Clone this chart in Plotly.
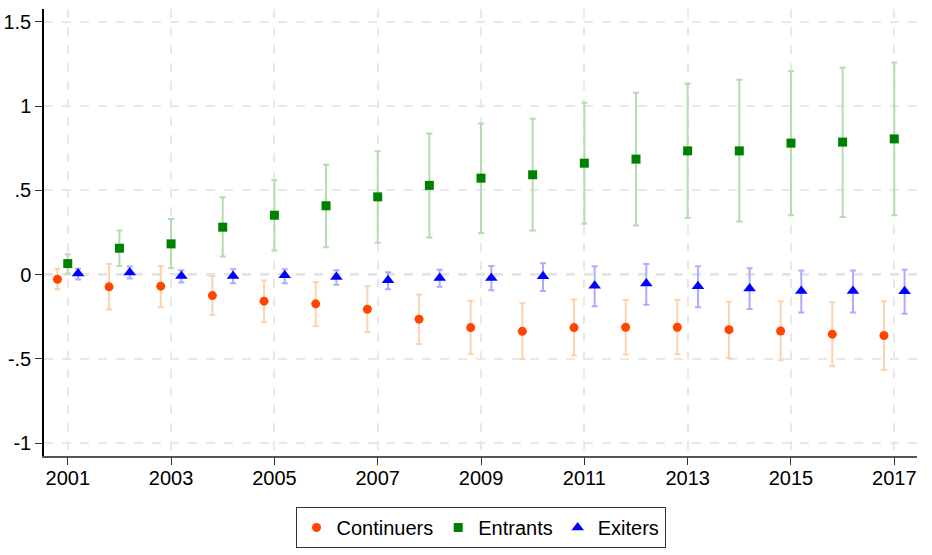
import plotly.graph_objects as go

years = list(range(2001, 2018))

cont = [-0.027, -0.072, -0.068, -0.124, -0.157, -0.173, -0.205, -0.264, -0.314, -0.336,
        -0.314, -0.312, -0.312, -0.326, -0.334, -0.353, -0.361]
cont_hi = [0.035, 0.064, 0.052, -0.009, -0.035, -0.043, -0.068, -0.118, -0.155, -0.169,
           -0.147, -0.150, -0.150, -0.161, -0.157, -0.163, -0.157]
cont_lo = [-0.086, -0.207, -0.193, -0.239, -0.280, -0.306, -0.340, -0.411, -0.470, -0.500,
           -0.480, -0.474, -0.472, -0.494, -0.508, -0.543, -0.565]

entr = [0.066, 0.157, 0.183, 0.282, 0.353, 0.409, 0.462, 0.530, 0.573, 0.593,
        0.662, 0.686, 0.735, 0.735, 0.781, 0.787, 0.806]
entr_hi = [0.122, 0.262, 0.330, 0.460, 0.561, 0.652, 0.733, 0.838, 0.898, 0.925,
           1.020, 1.080, 1.133, 1.157, 1.208, 1.228, 1.260]
entr_lo = [0.007, 0.052, 0.040, 0.108, 0.144, 0.163, 0.189, 0.221, 0.246, 0.262,
           0.302, 0.292, 0.336, 0.316, 0.353, 0.343, 0.353]

exit_ = [0.007, 0.013, -0.007, -0.007, -0.003, -0.013, -0.033, -0.019, -0.019, -0.009,
         -0.066, -0.052, -0.068, -0.082, -0.096, -0.096, -0.098]
exit_hi = [0.035, 0.049, 0.027, 0.033, 0.033, 0.027, 0.015, 0.029, 0.052, 0.068,
           0.050, 0.064, 0.050, 0.039, 0.025, 0.025, 0.029]
exit_lo = [-0.028, -0.023, -0.046, -0.050, -0.050, -0.060, -0.086, -0.072, -0.092, -0.096,
           -0.187, -0.179, -0.193, -0.203, -0.225, -0.225, -0.231]

x_ticks = list(range(2001, 2018, 2))
y_tickvals = [-1, -0.5, 0, 0.5, 1, 1.5]
y_ticktext = ["-1", "-.5", "0", ".5", "1", "1.5"]

offset = 0.2

def series(name, vals, hi, lo, dx, color, ecolor, symbol, size):
    return go.Scatter(
        x=[y + dx for y in years], y=vals, mode="markers", name=name,
        marker=dict(symbol=symbol, size=size, color=color, line=dict(width=0)),
        error_y=dict(type="data", symmetric=False,
                     array=[h - v for h, v in zip(hi, vals)],
                     arrayminus=[v - l for l, v in zip(lo, vals)],
                     color=ecolor, thickness=2, width=3),
    )

fig = go.Figure()
fig.add_hline(y=0, line=dict(color="#808080", width=2, dash="dash"), layer="below")
fig.add_trace(series("Continuers", cont, cont_hi, cont_lo, -offset, "#FF4500", "#FDD3AE", "circle", 9))
fig.add_trace(series("Entrants", entr, entr_hi, entr_lo, 0, "#008000", "#B5DCB0", "square", 9))
fig.add_trace(series("Exiters", exit_, exit_hi, exit_lo, offset, "#0000FF", "#ADADFF", "triangle-up", 11))

fig.update_layout(
    width=932, height=555,
    margin=dict(l=44, r=15, t=9, b=99, autoexpand=False),
    paper_bgcolor="white", plot_bgcolor="white",
    font=dict(family="Liberation Sans, Arial, sans-serif", size=20, color="black"),
    showlegend=True,
    legend=dict(orientation="h", x=0.5, xanchor="center", y=-0.114, yanchor="top",
                bordercolor="#333333", borderwidth=1, font=dict(size=20),
                itemsizing="trace"),
)
fig.update_xaxes(range=[2000.54, 2017.44], tickvals=x_ticks, automargin=False,
                 showgrid=True, gridcolor="#E8E8E8", griddash="dash", gridwidth=1.5,
                 showline=True, linecolor="#555555", linewidth=1.5,
                 ticks="outside", ticklen=7, tickcolor="#333333", zeroline=False,
                 ticklabelstandoff=-4)
fig.update_yaxes(range=[-1.076, 1.577], tickvals=y_tickvals, ticktext=y_ticktext,
                 automargin=False,
                 showgrid=True, gridcolor="#E8E8E8", griddash="dash", gridwidth=1.5,
                 showline=True, linecolor="black", linewidth=1.5,
                 ticks="outside", ticklen=7, tickcolor="#333333", zeroline=False)

fig.write_html("out.html")
